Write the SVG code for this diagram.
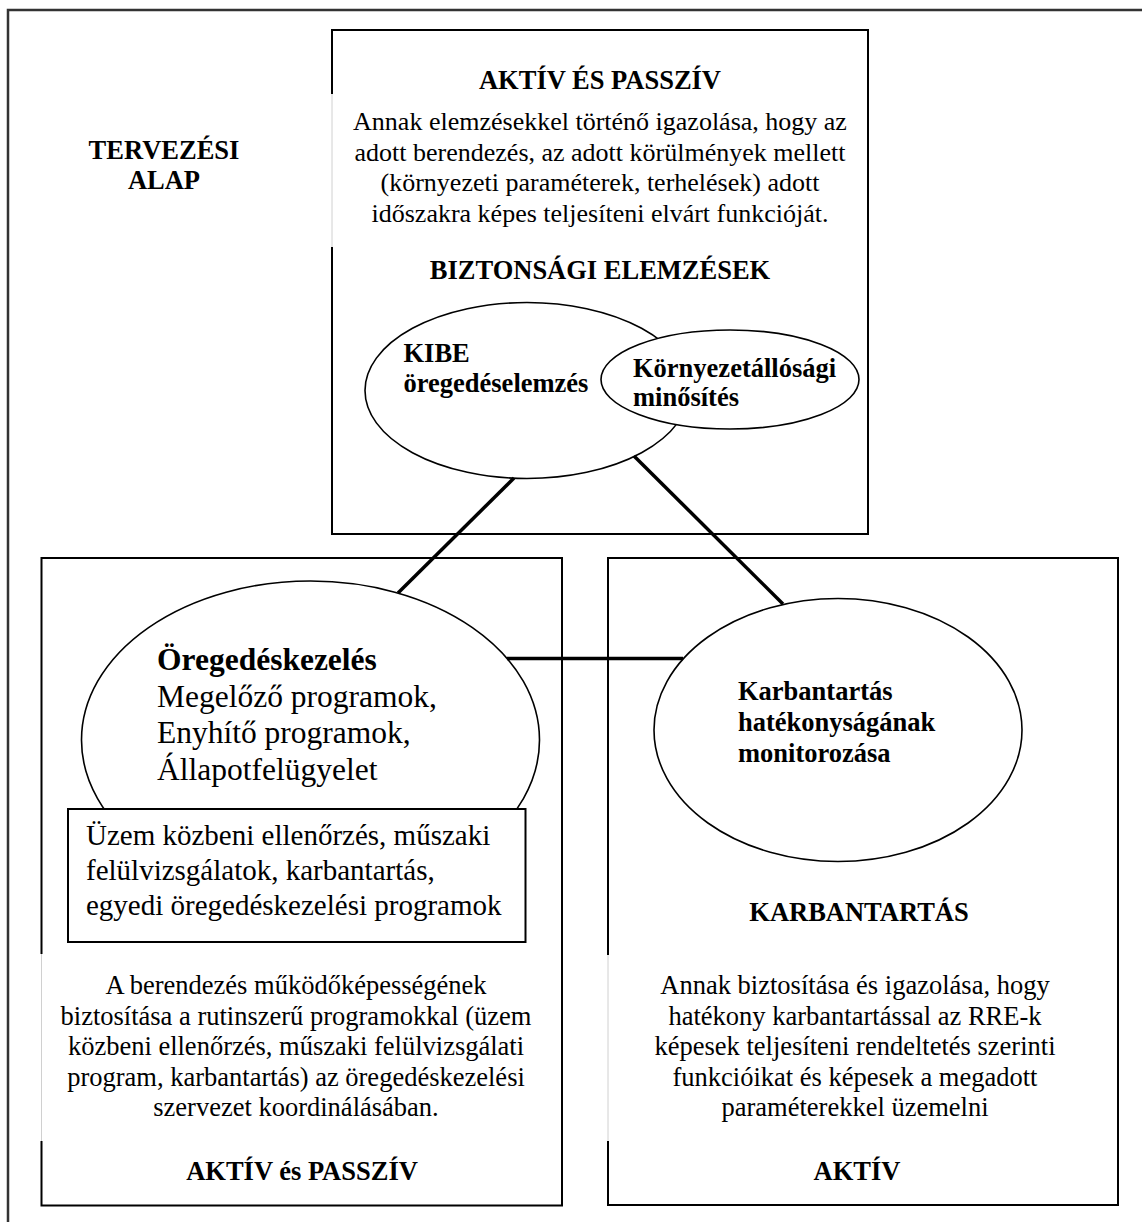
<svg xmlns="http://www.w3.org/2000/svg" width="1142" height="1222" viewBox="0 0 1142 1222">
<style>
text{font-family:"Liberation Serif","Times New Roman",serif;fill:#000}
.b{font-weight:bold;font-size:26.5px}
.r{font-size:26.5px}
.p{font-size:26px}
.c{text-anchor:middle}
.box{fill:#fff;stroke:#000;stroke-width:2}
.ell{fill:#fff;stroke:#000;stroke-width:1.6}
.gap{fill:#fff;stroke:none}
.faint{stroke:#d0d0d0;stroke-width:1}
.con{stroke:#000;stroke-width:3.5;fill:none;stroke-linecap:butt}
</style>
<rect width="1142" height="1222" fill="#fff"/>
<g id="frame">
<rect x="8" y="10" width="1200" height="1300" fill="none" stroke="#333" stroke-width="2.5"/>
</g>
<g id="tervezesi-alap">
<text class="b c" x="164" y="159">TERVEZÉSI</text>
<text class="b c" x="164" y="189">ALAP</text>
</g>
<g id="top-box">
<rect class="box" x="332" y="30" width="536" height="504"/>
<rect class="gap" x="329" y="94" width="6" height="153"/>
<line class="faint" x1="332" y1="94" x2="332" y2="247"/>
<text class="b c" x="600" y="89">AKTÍV ÉS PASSZÍV</text>
<text class="p c" x="600" y="130">Annak elemzésekkel történő igazolása, hogy az</text>
<text class="p c" x="600" y="161">adott berendezés, az adott körülmények mellett</text>
<text class="p c" x="600" y="191">(környezeti paraméterek, terhelések) adott</text>
<text class="p c" x="600" y="222">időszakra képes teljesíteni elvárt funkcióját.</text>
<text class="b c" x="600" y="279">BIZTONSÁGI ELEMZÉSEK</text>
</g>
<g id="kibe">
<ellipse class="ell" cx="527" cy="390.5" rx="162" ry="88"/>
<text class="b" x="403.5" y="362">KIBE</text>
<text class="b" x="403.5" y="392">öregedéselemzés</text>
</g>
<g id="kornyezet">
<ellipse class="ell" cx="730" cy="379.5" rx="129" ry="49.5"/>
<text class="b" x="633" y="376.5">Környezetállósági</text>
<text class="b" x="633" y="406">minősítés</text>
</g>
<g id="left-box">
<rect class="box" x="41.5" y="558" width="520.5" height="647.5"/>
<rect class="gap" x="38" y="954" width="7" height="187"/>
<line class="faint" x1="41.5" y1="954" x2="41.5" y2="1141"/>
<text class="r c" x="296" y="994">A berendezés működőképességének</text>
<text class="r c" x="296" y="1024.5">biztosítása a rutinszerű programokkal (üzem</text>
<text class="r c" x="296" y="1055">közbeni ellenőrzés, műszaki felülvizsgálati</text>
<text class="r c" x="296" y="1085.5">program, karbantartás) az öregedéskezelési</text>
<text class="r c" x="296" y="1116">szervezet koordinálásában.</text>
<text class="b c" x="302" y="1180">AKTÍV és PASSZÍV</text>
</g>
<g id="oregedeskezeles">
<ellipse class="ell" cx="310.5" cy="740" rx="229" ry="159"/>
<text x="157" y="670" style="font-size:31.5px;font-weight:bold">Öregedéskezelés</text>
<text x="157" y="707" style="font-size:31.5px">Megelőző programok,</text>
<text x="157" y="743" style="font-size:31.5px">Enyhítő programok,</text>
<text x="157" y="780" style="font-size:31.5px">Állapotfelügyelet</text>
</g>
<g id="programok">
<rect class="box" x="68" y="809" width="457.5" height="133"/>
<text x="86" y="845" style="font-size:29px">Üzem közbeni ellenőrzés, műszaki</text>
<text x="86" y="880" style="font-size:29px">felülvizsgálatok, karbantartás,</text>
<text x="86" y="915" style="font-size:29px">egyedi öregedéskezelési programok</text>
</g>
<g id="right-box">
<rect class="box" x="608" y="558" width="510" height="647"/>
<rect class="gap" x="604.5" y="955" width="7" height="186"/>
<line class="faint" x1="608" y1="955" x2="608" y2="1141"/>
<text class="b c" x="859" y="921">KARBANTARTÁS</text>
<text class="r c" x="855" y="994">Annak biztosítása és igazolása, hogy</text>
<text class="r c" x="855" y="1024.5">hatékony karbantartással az RRE-k</text>
<text class="r c" x="855" y="1055">képesek teljesíteni rendeltetés szerinti</text>
<text class="r c" x="855" y="1085.5">funkcióikat és képesek a megadott</text>
<text class="r c" x="855" y="1116">paraméterekkel üzemelni</text>
<text class="b c" x="857" y="1180">AKTÍV</text>
</g>
<g id="monitorozas">
<ellipse class="ell" cx="838" cy="730" rx="184" ry="131.5"/>
<text class="b" x="738" y="700">Karbantartás</text>
<text class="b" x="738" y="731">hatékonyságának</text>
<text class="b" x="738" y="762">monitorozása</text>
</g>
<g id="connectors">
<line class="con" x1="514" y1="478" x2="398" y2="593"/>
<line class="con" x1="634" y1="456" x2="783" y2="604"/>
<line class="con" x1="507" y1="658.5" x2="683" y2="658.5"/>
</g>
</svg>
